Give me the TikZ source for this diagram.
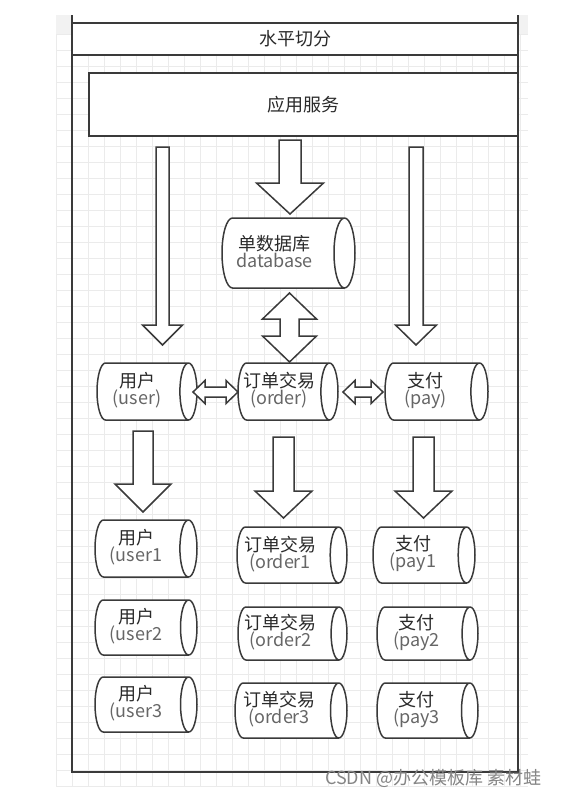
\documentclass[tikz,border=0pt]{standalone}
\usepackage{fontspec}
\setmainfont{Noto Sans CJK SC}
\usetikzlibrary{calc}

\definecolor{linegray}{HTML}{3A3A3A}
\definecolor{textdark}{HTML}{2A2A2A}
\definecolor{textlatin}{HTML}{666666}
\definecolor{gridgray}{HTML}{EBEBEB}
\definecolor{bandgray}{HTML}{F2F2F2}
\definecolor{markgray}{HTML}{858585}

\tikzset{
  frameline/.style={draw=linegray, line width=2pt},
  bigbox/.style={draw=linegray, line width=1.8pt, fill=white, inner sep=0pt,
    font=\fontsize{18pt}{20pt}\selectfont, text=textdark},
  cylline/.style={draw=linegray, line width=1.5pt, fill=white},
  cyltext/.style={align=center, inner sep=0pt, text=textdark,
    font=\fontsize{18pt}{17pt}\selectfont},
  fatarrow/.style={draw=linegray, line width=1.5pt, fill=white, line join=miter},
  gridline/.style={draw=gridgray, line width=0.8pt},
}

% name, cx, cy, width, height, text shift, top line, bottom line
\newcommand{\store}[8]{%
  \pgfmathsetmacro\ry{#5/2}\pgfmathsetmacro\rx{0.3*\ry}
  \pgfmathsetmacro\xl{#2-#4/2}\pgfmathsetmacro\xr{#2+#4/2}
  \node[inner sep=0pt, minimum width=#4pt, minimum height=#5pt] (#1) at (#2,#3) {};
  \draw[cylline] (\xr-\rx,#3-\ry) -- (\xl+\rx,#3-\ry)
    arc[start angle=90, end angle=270, x radius=\rx pt, y radius=\ry pt]
    -- (\xr-\rx,#3+\ry)
    arc[start angle=-90, end angle=90, x radius=\rx pt, y radius=\ry pt]
    -- cycle
    (\xr-\rx,#3-\ry)
    arc[start angle=90, end angle=270, x radius=\rx pt, y radius=\ry pt];
  \node[cyltext] (#1-txt) at ($(#1.center)+(#6,-1)$)
    {#7\\\textcolor{textlatin}{#8}};}

% from, to, half shaft, half head, head length
\newcommand{\fatdown}[5]{%
  \draw[fatarrow] let \p1=(#1), \p2=(#2) in
    (\x1-#3,\y1) -- (\x1+#3,\y1) -- (\x1+#3,\y2+#5) -- (\x1+#4,\y2+#5)
    -- (\x1,\y2) -- (\x1-#4,\y2+#5) -- (\x1-#3,\y2+#5) -- cycle;}
\newcommand{\fatupdown}[5]{%
  \draw[fatarrow] let \p1=(#1), \p2=(#2) in
    (\x1,\y1) -- (\x1+#4,\y1-#5) -- (\x1+#3,\y1-#5) -- (\x1+#3,\y2+#5)
    -- (\x1+#4,\y2+#5) -- (\x1,\y2) -- (\x1-#4,\y2+#5) -- (\x1-#3,\y2+#5)
    -- (\x1-#3,\y1-#5) -- (\x1-#4,\y1-#5) -- cycle;}
\newcommand{\fatleftright}[5]{%
  \draw[fatarrow] let \p1=(#1), \p2=(#2) in
    (\x1,\y1) -- (\x1+#5,\y1+#4) -- (\x1+#5,\y1+#3) -- (\x2-#5,\y1+#3)
    -- (\x2-#5,\y1+#4) -- (\x2,\y1) -- (\x2-#5,\y1-#4) -- (\x2-#5,\y1-#3)
    -- (\x1+#5,\y1-#3) -- (\x1+#5,\y1-#4) -- cycle;}

\begin{document}
\begin{tikzpicture}[x=1pt, y=-1pt]
  \useasboundingbox (0,0) rectangle (578,801);

  % canvas
  \fill[bandgray] (56,15) rectangle (528,34);
  \foreach \gx in {56,72,...,520}
    \draw[gridline] (\gx,34) -- (\gx,786);
  \foreach \gy in {34,50,...,786}
    \draw[gridline] (56,\gy) -- (528,\gy);
  \fill[white] (72,15) rectangle (518,34);

  % frame
  \draw[frameline] (72,15) -- (72,772) -- (518,772) -- (518,15);
  \node[bigbox, line width=2pt, minimum width=446pt, minimum height=32pt]
    (title) at (295,39) {水平切分};
  \node[bigbox, minimum width=429pt, minimum height=63pt]
    (app) at (303.5,104.5) {应用服务};

  % stores
  \store{db}{288.5}{253}{133}{70}{-14}{单数据库}{database}
  \store{user}{147}{391.5}{100}{57}{-10}{用户}{(user)}
  \store{order}{288}{391.5}{100}{57}{-9}{订单交易}{(order)}
  \store{pay}{436.5}{391.5}{103}{57}{-11}{支付}{(pay)}

  \store{user1}{146}{548.5}{102}{57}{-10}{用户}{(user1}
  \store{order1}{292}{555}{110}{56}{-12}{订单交易}{(order1}
  \store{pay1}{424}{555}{102}{56}{-11}{支付}{(pay1}
  \store{user2}{146}{627.5}{102}{55}{-10}{用户}{(user2}
  \store{order2}{292.5}{633.5}{109}{53}{-12}{订单交易}{(order2}
  \store{pay2}{427.5}{633.5}{101}{53}{-11}{支付}{(pay2}
  \store{user3}{146}{704.5}{102}{55}{-10}{用户}{(user3}
  \store{order3}{291}{710.5}{112}{55}{-12}{订单交易}{(order3}
  \store{pay3}{427.5}{710.5}{101}{55}{-11}{支付}{(pay3}

  % arrows out of the app layer
  \coordinate (u-from) at (162.5,147);  \coordinate (u-to) at (162.5,345);
  \coordinate (d-from) at (290,140);    \coordinate (d-to) at (290,214);
  \coordinate (p-from) at (416,147);    \coordinate (p-to) at (416,345);
  \fatdown{u-from}{u-to}{6.5pt}{20pt}{20pt}
  \fatdown{d-from}{d-to}{11pt}{33.5pt}{31pt}
  \fatdown{p-from}{p-to}{7pt}{20.5pt}{20pt}

  % links between the stores
  \coordinate (do-top) at (289.5,293);  \coordinate (do-bot) at (289.5,362);
  \fatupdown{do-top}{do-bot}{9.5pt}{27pt}{26pt}
  \coordinate (uo-l) at (193,392);      \coordinate (uo-r) at (238,392);
  \coordinate (op-l) at (343,392);      \coordinate (op-r) at (383,392);
  \fatleftright{uo-l}{uo-r}{5pt}{11.5pt}{12pt}
  \fatleftright{op-l}{op-r}{5pt}{11.5pt}{12pt}

  % arrows into the shards
  \coordinate (s1-from) at (143,431);   \coordinate (s1-to) at (143,512);
  \coordinate (s2-from) at (283.5,437); \coordinate (s2-to) at (283.5,518);
  \coordinate (s3-from) at (423.5,437); \coordinate (s3-to) at (423.5,518);
  \fatdown{s1-from}{s1-to}{10pt}{28pt}{28pt}
  \fatdown{s2-from}{s2-to}{10.5pt}{28.5pt}{27pt}
  \fatdown{s3-from}{s3-to}{10.5pt}{28.5pt}{27pt}

  \node[anchor=west, inner sep=0pt, text=markgray,
    font=\fontsize{18pt}{20pt}\selectfont] (mark) at (325,778)
    {CSDN @办公模板库 素材蛙};
\end{tikzpicture}
\end{document}
